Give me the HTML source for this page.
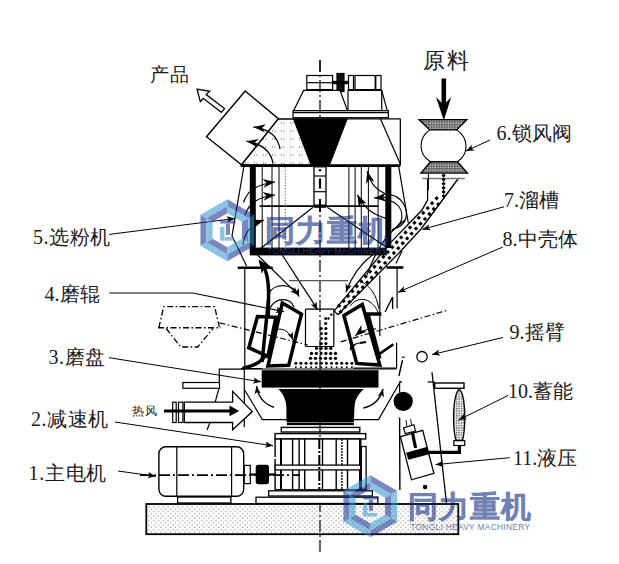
<!DOCTYPE html>
<html><head><meta charset="utf-8">
<style>
html,body{margin:0;padding:0;background:#fff;}
svg{display:block;}
.t{font-family:"Liberation Serif",serif;fill:#1a1a1a;}
.w{font-family:"Liberation Sans",sans-serif;font-weight:bold;}
</style></head><body>
<svg width="619" height="564" viewBox="0 0 619 564">
<defs>
 <pattern id="sparse" width="9" height="8" patternUnits="userSpaceOnUse"><rect x="2" y="2" width="0.8" height="2.2" fill="#9a9a9a"/><rect x="4.5" y="2" width="0.8" height="2.2" fill="#9a9a9a"/></pattern>
 <pattern id="base" width="4.8" height="4.6" patternUnits="userSpaceOnUse" x="147" y="505"><rect width="4.8" height="4.6" fill="#fff"/><rect x="1.5" y="1" width="1" height="1.4" fill="#8c8c8c"/><rect x="3.9" y="3.3" width="1" height="1.4" fill="#8c8c8c"/></pattern>
 <pattern id="hatch" width="2.6" height="2.6" patternUnits="userSpaceOnUse"><rect width="2.6" height="2.6" fill="#666"/><rect x="0.5" y="0.5" width="1.2" height="1.2" fill="#eee"/></pattern>
 <pattern id="hatch2" width="2.4" height="2.4" patternUnits="userSpaceOnUse"><rect width="2.4" height="2.4" fill="#fff"/><rect x="0" y="0" width="1.3" height="1.3" fill="#555"/><rect x="1.2" y="1.2" width="0.8" height="0.8" fill="#999"/></pattern>
 <marker id="ah" markerWidth="14" markerHeight="10" refX="12" refY="5" orient="auto" markerUnits="userSpaceOnUse"><path d="M12,5 L0,0.8 L3.5,5 L0,9.2 Z" fill="#000"/></marker>
 <marker id="ahc" markerWidth="13" markerHeight="10" refX="12" refY="5" orient="auto" markerUnits="userSpaceOnUse"><path d="M12,5 L0,0.6 L3.5,5 L0,9.4 Z" fill="#000"/></marker>
 <marker id="ahs" markerWidth="10" markerHeight="8" refX="8" refY="4" orient="auto" markerUnits="userSpaceOnUse"><path d="M8,4 L0,0.8 L2,4 L0,7.2 Z" fill="#000"/></marker>
 <marker id="ahl" markerWidth="14" markerHeight="10" refX="12" refY="5" orient="auto" markerUnits="userSpaceOnUse"><path d="M12,5 L0,0.5 L3.5,5 L0,9.5 Z" fill="#000"/></marker>
</defs>
<g fill="none" stroke="#000" stroke-width="1.2">
 <!-- base -->
 <rect x="146.3" y="504" width="312" height="30.2" fill="url(#base)" stroke-width="1.8"/>

 <!-- center line -->
 <line x1="320" y1="60" x2="320" y2="555" stroke-dasharray="12,3,2,3"/>

 <!-- top motor -->
 <rect x="306.8" y="75.5" width="25.8" height="14.1" fill="#fff"/>
 <line x1="306.8" y1="82.7" x2="332.6" y2="82.7"/>
 <rect x="337" y="73.5" width="7" height="18" fill="#111"/>
 <line x1="332.6" y1="82.5" x2="348.5" y2="82.5" stroke-width="3.4"/>
 <rect x="348.5" y="75.5" width="5" height="14.1"/>
 <rect x="355" y="75.5" width="26" height="14.1"/>
 <line x1="375.5" y1="75.5" x2="375.5" y2="89.6" stroke-width="1.8"/>
 <polygon points="303.6,90.4 340,90.4 347.5,110.7 293.6,110.7" fill="#fff"/>
 <rect x="348" y="90.4" width="33.7" height="20.3"/>
 <line x1="381.7" y1="90.4" x2="387.2" y2="110.7"/>
 <rect x="293" y="110.7" width="95.4" height="7" fill="#fff"/>
 <line x1="293" y1="112.7" x2="388.4" y2="112.7"/>
 <line x1="320" y1="60" x2="320" y2="118" stroke-dasharray="12,3,2,3"/>

 <!-- hood -->
 <polygon points="278.3,119 400.3,119 400.3,165 241.5,165" fill="url(#sparse)"/>
 <polygon points="325,119 400.3,119 400.3,165 330,165" fill="#fff" stroke="none"/>
 <line x1="278.3" y1="119" x2="400.3" y2="119"/>
 <line x1="400.3" y1="119" x2="400.3" y2="165"/>
 <polygon points="293.6,119 347,119 329.6,164.5 311,164.5" fill="#000"/>
 <line x1="380.5" y1="119" x2="400.3" y2="164"/>
 <line x1="240.7" y1="165.6" x2="400.3" y2="165.6" stroke-width="2.6"/>
 <!-- outlet duct -->
 <polygon points="245.2,91 278.3,118.7 241.5,164.8 206.5,136.7" fill="#fff" stroke-width="1.4"/>
 
 <path d="M280,149 C278,137 270,129 253.5,127" marker-end="url(#ah)" stroke-width="1.3"/>
 <path d="M273,163.3 C271,152 263,144 246.4,141.2" marker-end="url(#ah)" stroke-width="1.3"/>
 <!-- product arrow -->
 <polygon points="197.1,89.2 209.7,91.3 206.2,94.6 224.5,108.6 221.4,112.3 203.2,98.3 200.3,101.6" fill="#fff" stroke-width="1.3"/>

 <!-- separator cage -->
 <rect x="249.8" y="166" width="6" height="86" fill="#000" stroke="none"/>
 <rect x="385.3" y="166" width="6" height="82" fill="#000" stroke="none"/>
 <rect x="249.8" y="247.6" width="137" height="7.8" fill="#000" stroke="none"/>
 <line x1="259.6" y1="206.2" x2="378.1" y2="206.2" stroke-width="1.8"/>
 <rect x="314" y="166.8" width="12" height="38.5" fill="#fff" stroke-width="1.3"/>
 <line x1="314" y1="176" x2="326" y2="176"/>
 <line x1="314" y1="191.7" x2="326" y2="191.7"/>
 <line x1="320" y1="178.5" x2="320" y2="188.5" stroke-width="2.2"/>
 <circle cx="320" cy="170.3" r="1.2" fill="#000" stroke="none"/>
 <line x1="320" y1="199" x2="320" y2="212" stroke-width="2"/>
 <line x1="314" y1="206.3" x2="326" y2="206.3" stroke-width="3"/>
 <line x1="313" y1="207.3" x2="260" y2="249"/>
 <line x1="327.2" y1="207.3" x2="386.1" y2="246.9"/>
 <g stroke-width="1">
 <line x1="262.2" y1="167" x2="262.2" y2="250"/>
 <line x1="272" y1="167" x2="272" y2="250"/>
 <line x1="279" y1="167" x2="279" y2="250"/>
 <line x1="285.3" y1="167" x2="285.3" y2="250" stroke="#777" stroke-dasharray="1.5,1.5"/>
 <line x1="348.9" y1="167" x2="348.9" y2="250"/>
 <line x1="355.1" y1="167" x2="355.1" y2="250"/>
 <line x1="361.3" y1="167" x2="361.3" y2="250"/>
 <line x1="368.4" y1="167" x2="368.4" y2="250"/>
 <line x1="378.1" y1="167" x2="378.1" y2="250"/>
 </g>
 <!-- cage flow arrows -->
 <path d="M243.6,202.5 C247,190 258,184 275,182" marker-end="url(#ahc)"/>
 <path d="M245,215 C249,203 258,197 275,195" marker-end="url(#ahc)"/>
 <path d="M243,245 C244,232 252,224 264,220" marker-end="url(#ahc)"/>
 <path d="M384.7,193.5 C378,190 371,186 367.3,171.2" marker-end="url(#ahc)"/>
 <path d="M386,218.4 C375,215 365,210 357.4,194.8" marker-end="url(#ahc)"/>
 <path d="M391,197.5 C386,197 381,197.5 374.2,197.9" marker-end="url(#ahc)"/>
 <path d="M390.9,194.8 C402,197 408,208 406,218 C404,225 398,228 392.2,229.5"/>
 <path d="M390.9,201 C399,204 403,211 401.5,220 C400,225 396,228 392,231"/>
 <!-- separator outer housing -->
 <polyline points="244.3,164 232,236 246.6,266"/>
 <line x1="398.5" y1="165.3" x2="408.3" y2="223"/>

 <!-- middle housing -->
 <line x1="237.7" y1="267.8" x2="272.7" y2="267.8" stroke-width="2.6"/>
 <line x1="386.5" y1="267.5" x2="403.3" y2="267.5" stroke-width="2.6"/>
 <line x1="244.8" y1="267.8" x2="244.8" y2="369"/>
 <line x1="397.1" y1="267.5" x2="397.1" y2="308.3"/>
 <line x1="396.6" y1="342.7" x2="396.6" y2="368.2"/>
 <line x1="353.5" y1="368.2" x2="396.6" y2="368.2"/>
 <polyline points="219.3,389 219.3,369.2 244.8,369.2"/>
 <line x1="240.8" y1="368.6" x2="262.3" y2="368.6"/>
 <line x1="379.8" y1="275.5" x2="379.8" y2="336"/>

 <!-- funnel / inner -->
 <polyline points="257.5,255 298.2,294.9" marker-end="url(#ahs)"/>
 <path d="M282.3,255 L299.8,282.1 C306,292 312,300 317.4,310" marker-end="url(#ahs)"/>
 <line x1="289.2" y1="280.6" x2="348.1" y2="280.6" stroke="#555"/>
 <line x1="305.5" y1="309.1" x2="305.5" y2="346.5"/>
 <polyline points="305.5,309.1 333.8,309.1 333.8,346.5 305.5,346.5"/>
 <!-- thick flow curve -->
 <path d="M262,264 C268,272 269,285 268.5,300 L267.9,345 C267,357 262,364 242.4,368.4" stroke-width="3.5"/>
 <polygon points="258.5,259.5 270,266 264,268 262,274" fill="#000" stroke="none"/>
 <!-- arcs -->
 <path d="M268.7,293.3 C274,283 293,282 299,296.5" marker-end="url(#ahs)"/>
 <path d="M270.3,307.7 C276,297 290,297 294,307"/>
 <path d="M275.9,332.4 C281,326 290,329 291.8,336.4" marker-end="url(#ahs)"/>
 <path d="M350.3,306 C356,297 371,295 379,314" stroke-width="1"/>
 <path d="M360,281 C371,286 377,296 378.6,308.5" stroke-width="1"/>

 <!-- chute -->
 <polyline points="427.6,178 427.6,200 422,210 390.6,242.6 334.2,310.9" stroke-width="1.3"/>
 <polyline points="458.7,178 421.4,228.5 399,253 338,314.5" stroke-width="1.3"/>
 <line x1="334.2" y1="310.9" x2="338" y2="315"/>
 <line x1="422.3" y1="178.5" x2="464.9" y2="178.5" stroke="#777" stroke-width="1.4"/>
 <g fill="#000" stroke="none"><rect x="442.1" y="174.0" width="3.0" height="3.0" transform="rotate(45 443.6 175.5)"/><rect x="442.1" y="178.1" width="3.0" height="3.0" transform="rotate(45 443.6 179.6)"/><rect x="442.1" y="182.2" width="3.0" height="3.0" transform="rotate(45 443.6 183.7)"/><rect x="442.1" y="186.3" width="3.0" height="3.0" transform="rotate(45 443.6 187.8)"/><rect x="442.1" y="190.4" width="3.0" height="3.0" transform="rotate(45 443.6 191.9)"/><rect x="442.1" y="194.5" width="3.0" height="3.0" transform="rotate(45 443.6 196.0)"/><rect x="435.0" y="196.7" width="3.1" height="3.1" transform="rotate(45 436.6 198.3)"/><rect x="436.7" y="202.6" width="3.1" height="3.1" transform="rotate(45 438.2 204.2)"/><rect x="430.6" y="201.6" width="3.1" height="3.1" transform="rotate(45 432.1 203.1)"/><rect x="432.2" y="207.5" width="3.1" height="3.1" transform="rotate(45 433.8 209.1)"/><rect x="426.2" y="206.5" width="3.1" height="3.1" transform="rotate(45 427.7 208.0)"/><rect x="427.8" y="212.4" width="3.1" height="3.1" transform="rotate(45 429.3 214.0)"/><rect x="421.7" y="211.4" width="3.1" height="3.1" transform="rotate(45 423.3 212.9)"/><rect x="423.4" y="217.3" width="3.1" height="3.1" transform="rotate(45 424.9 218.9)"/><rect x="417.3" y="216.3" width="3.1" height="3.1" transform="rotate(45 418.8 217.8)"/><rect x="418.9" y="222.2" width="3.1" height="3.1" transform="rotate(45 420.5 223.8)"/><rect x="412.9" y="221.2" width="3.1" height="3.1" transform="rotate(45 414.4 222.7)"/><rect x="414.5" y="227.1" width="3.1" height="3.1" transform="rotate(45 416.1 228.6)"/><rect x="408.4" y="226.0" width="3.1" height="3.1" transform="rotate(45 410.0 227.6)"/><rect x="410.1" y="232.0" width="3.1" height="3.1" transform="rotate(45 411.6 233.5)"/><rect x="404.0" y="230.9" width="3.1" height="3.1" transform="rotate(45 405.5 232.5)"/><rect x="405.6" y="236.9" width="3.1" height="3.1" transform="rotate(45 407.2 238.4)"/><rect x="399.6" y="235.8" width="3.1" height="3.1" transform="rotate(45 401.1 237.4)"/><rect x="401.2" y="241.8" width="3.1" height="3.1" transform="rotate(45 402.8 243.3)"/><rect x="395.1" y="240.7" width="3.1" height="3.1" transform="rotate(45 396.7 242.3)"/><rect x="396.8" y="246.7" width="3.1" height="3.1" transform="rotate(45 398.3 248.2)"/><rect x="390.7" y="245.6" width="3.1" height="3.1" transform="rotate(45 392.3 247.2)"/><rect x="392.3" y="251.5" width="3.1" height="3.1" transform="rotate(45 393.9 253.1)"/><rect x="386.3" y="250.5" width="3.1" height="3.1" transform="rotate(45 387.8 252.0)"/><rect x="387.9" y="256.4" width="3.1" height="3.1" transform="rotate(45 389.5 258.0)"/><rect x="381.8" y="255.4" width="3.1" height="3.1" transform="rotate(45 383.4 256.9)"/><rect x="383.5" y="261.3" width="3.1" height="3.1" transform="rotate(45 385.0 262.9)"/><rect x="377.4" y="260.3" width="3.1" height="3.1" transform="rotate(45 379.0 261.8)"/><rect x="379.0" y="266.2" width="3.1" height="3.1" transform="rotate(45 380.6 267.8)"/><rect x="373.0" y="265.2" width="3.1" height="3.1" transform="rotate(45 374.5 266.7)"/><rect x="374.6" y="271.1" width="3.1" height="3.1" transform="rotate(45 376.2 272.7)"/><rect x="368.5" y="270.1" width="3.1" height="3.1" transform="rotate(45 370.1 271.6)"/><rect x="370.2" y="276.0" width="3.1" height="3.1" transform="rotate(45 371.7 277.5)"/><rect x="364.1" y="275.0" width="3.1" height="3.1" transform="rotate(45 365.7 276.5)"/><rect x="365.7" y="280.9" width="3.1" height="3.1" transform="rotate(45 367.3 282.4)"/><rect x="359.7" y="279.8" width="3.1" height="3.1" transform="rotate(45 361.2 281.4)"/><rect x="361.3" y="285.8" width="3.1" height="3.1" transform="rotate(45 362.9 287.3)"/><rect x="355.2" y="284.7" width="3.1" height="3.1" transform="rotate(45 356.8 286.3)"/><rect x="356.9" y="290.7" width="3.1" height="3.1" transform="rotate(45 358.4 292.2)"/><rect x="350.8" y="289.6" width="3.1" height="3.1" transform="rotate(45 352.4 291.2)"/><rect x="352.5" y="295.6" width="3.1" height="3.1" transform="rotate(45 354.0 297.1)"/><rect x="346.4" y="294.5" width="3.1" height="3.1" transform="rotate(45 347.9 296.1)"/><rect x="348.0" y="300.5" width="3.1" height="3.1" transform="rotate(45 349.6 302.0)"/><rect x="342.0" y="299.4" width="3.1" height="3.1" transform="rotate(45 343.5 301.0)"/><rect x="343.6" y="305.3" width="3.1" height="3.1" transform="rotate(45 345.1 306.9)"/><rect x="337.5" y="304.3" width="3.1" height="3.1" transform="rotate(45 339.1 305.8)"/><rect x="339.2" y="310.2" width="3.1" height="3.1" transform="rotate(45 340.7 311.8)"/></g>
 <path d="M405,220 C385,235 376,250 367,275" />
 <path d="M376,252 C362,262 352,275 346,292" marker-end="url(#ahs)"/>
 <line x1="402" y1="251" x2="396" y2="263.5"/>

 <!-- lock valve -->
 <polygon points="419.1,119.6 466.7,119.6 456.7,129.9 429.8,129.9" fill="url(#hatch)" stroke-width="1.4"/>
 <path d="M429.8,129.9 C418,138 418,154 430.5,161.8 M456.7,129.9 C469,138 469,154 457.4,161.8" stroke-width="1.1"/>
 <polygon points="430.5,161.8 457.4,161.8 467.4,173.1 421,173.1" fill="url(#hatch)" stroke-width="1.4"/>
 <line x1="428.4" y1="173" x2="428.4" y2="190" stroke-width="1"/>
 <!-- feed arrow -->
 <line x1="443.8" y1="78.5" x2="443.8" y2="108" stroke-width="4.6"/>
 <polygon points="436,97 443.8,105 451.2,97 443.8,120.5" fill="#000" stroke="none"/>

 <!-- rollers -->
 <polygon points="257.5,316.5 275.9,317.3 267.9,356.4 248.8,347.7" stroke-width="3.5" fill="#fff"/>
 <polygon points="282.3,303 301.4,314.1 288.7,365.2 267.9,366" stroke-width="3.5" fill="#fff"/>
 <line x1="268.5" y1="300" x2="262" y2="362" stroke-width="3.5"/>
 <polygon points="343.9,315.5 362.3,304.4 379.8,365 356.7,363.4" stroke-width="3.5" fill="#fff"/>
 <polyline points="381.4,313.9 367.9,313.9 379.8,358.6" stroke-width="3.5"/>
 <line x1="377.4" y1="355.4" x2="393.4" y2="344.3" stroke-width="2.6"/>
 <polyline points="385.1,312 392.6,297 392.6,309" stroke-width="1.4"/>
 <path d="M275,330 C283,327 290,332 293,340" marker-end="url(#ahs)" stroke-width="1"/>
 <path d="M376,329 C368,328 361,331 355,336" marker-end="url(#ahc)" stroke-width="1"/>
 <path d="M360,343 C356,343 352,346 350,350" marker-end="url(#ahs)" stroke-width="1.2"/>
 <line x1="360" y1="343" x2="366" y2="342" stroke-width="2"/>
 <!-- raised roller dash-dot -->
 <polyline points="158.9,327.7 163.7,306.7 214.6,306.7 219.5,327.7" stroke-dasharray="6,2.5,1.5,2.5" stroke-width="1.3"/>
 <polyline points="166.2,328.5 180.7,347 197.7,347 213,328.5" stroke-dasharray="6,2.5,1.5,2.5" stroke-width="1.3"/>
 <line x1="158" y1="327.7" x2="221" y2="327.7" stroke-dasharray="6,2.5,1.5,2.5" stroke-width="1.5"/>
 <line x1="219.5" y1="322.8" x2="307.8" y2="345" stroke-dasharray="6,2.5,1.5,2.5"/>
 <line x1="340.7" y1="341.9" x2="447.5" y2="310.2" stroke-dasharray="6,2.5,1.5,2.5"/>

 <!-- pile -->
 <g fill="#000" stroke="none"><circle cx="325.7" cy="318.5" r="1.5"/><circle cx="325.7" cy="323.5" r="1.5"/><circle cx="321.2" cy="328.5" r="1.6"/><circle cx="325.9" cy="328.5" r="1.6"/><circle cx="321.2" cy="333.5" r="1.6"/><circle cx="325.9" cy="333.5" r="1.6"/><circle cx="321.2" cy="338.5" r="1.6"/><circle cx="325.9" cy="338.5" r="1.6"/><circle cx="321.2" cy="343.5" r="1.6"/><circle cx="325.9" cy="343.5" r="1.6"/><circle cx="331.3" cy="314.6" r="1.2"/><circle cx="328.5" cy="318.5" r="1.2"/><circle cx="316.5" cy="348.3" r="1.65"/><circle cx="321.2" cy="348.3" r="1.65"/><circle cx="326.0" cy="348.3" r="1.65"/><circle cx="330.8" cy="348.3" r="1.65"/><circle cx="311.5" cy="353.4" r="1.65"/><circle cx="316.3" cy="353.4" r="1.65"/><circle cx="321.1" cy="353.4" r="1.65"/><circle cx="325.9" cy="353.4" r="1.65"/><circle cx="330.7" cy="353.4" r="1.65"/><circle cx="335.5" cy="353.4" r="1.65"/><circle cx="310.5" cy="358.3" r="1.65"/><circle cx="315.5" cy="358.3" r="1.65"/><circle cx="320.5" cy="358.3" r="1.65"/><circle cx="325.5" cy="358.3" r="1.65"/><circle cx="330.5" cy="358.3" r="1.65"/><circle cx="335.5" cy="358.3" r="1.65"/><circle cx="295.8" cy="363.3" r="1.5"/><circle cx="295.8" cy="367.3" r="1.0"/><circle cx="300.9" cy="363.3" r="1.5"/><circle cx="300.9" cy="367.3" r="1.0"/><circle cx="306.0" cy="363.3" r="1.5"/><circle cx="306.0" cy="367.3" r="1.0"/><circle cx="311.1" cy="363.3" r="1.5"/><circle cx="311.1" cy="367.3" r="1.0"/><circle cx="316.2" cy="363.3" r="1.5"/><circle cx="316.2" cy="367.3" r="1.0"/><circle cx="321.3" cy="363.3" r="1.5"/><circle cx="321.3" cy="367.3" r="1.0"/><circle cx="326.4" cy="363.3" r="1.5"/><circle cx="326.4" cy="367.3" r="1.0"/><circle cx="331.5" cy="363.3" r="1.5"/><circle cx="331.5" cy="367.3" r="1.0"/><circle cx="336.6" cy="363.3" r="1.5"/><circle cx="336.6" cy="367.3" r="1.0"/><circle cx="341.7" cy="363.3" r="1.5"/><circle cx="341.7" cy="367.3" r="1.0"/><circle cx="346.8" cy="363.3" r="1.5"/><circle cx="346.8" cy="367.3" r="1.0"/><circle cx="351.9" cy="363.3" r="1.5"/><circle cx="351.9" cy="367.3" r="1.0"/></g>

 <!-- table -->
 <line x1="244.2" y1="369" x2="396.6" y2="369"/>
 <rect x="261.7" y="370.2" width="116.8" height="17.4" fill="#000" stroke="none"/>
 <path d="M278.4,389 L364,389 C357,395 354.5,401 354.5,408 L353.8,422 L286.4,422 L286.4,408 C286.4,401 284,395 278.4,389 Z" fill="#000" stroke="none"/>
 <rect x="286.9" y="422.5" width="67" height="2.6" fill="#000" stroke="none"/>
 <rect x="281.3" y="427.4" width="78.5" height="4.6" stroke-width="1.4"/>
 <rect x="275.1" y="433.6" width="90.6" height="5.4" stroke-width="1.4"/>
 <!-- lower housing -->
 <polyline points="244.3,369.5 244.3,426.9"/>
 <polyline points="245,390.5 262.4,419.6 286.4,419.6"/>
 <polyline points="400.3,381.8 378.5,419.6 353.8,419.6"/>
 <path d="M274,407.3 C264,404 258,396 256.5,386" marker-end="url(#ahs)" stroke-width="1.4"/>
 <path d="M363.3,408 C373,406 380,400 383,389" marker-end="url(#ahs)" stroke-width="1.4"/>

 <!-- gearbox -->
 <rect x="275.1" y="439" width="85.7" height="50.8" fill="#fff" stroke-width="1.4"/>
 <line x1="281" y1="439" x2="281" y2="489.8" stroke-width="2"/>
 <g stroke-width="1.4">
 <line x1="292.6" y1="439" x2="292.6" y2="489.8"/>
 <line x1="299.1" y1="439" x2="299.1" y2="489.8"/>
 <line x1="304.7" y1="439" x2="304.7" y2="489.8"/>
 <line x1="322.5" y1="439" x2="322.5" y2="489.8"/>
 <line x1="336.2" y1="439" x2="336.2" y2="489.8"/>
 <line x1="341.9" y1="439" x2="341.9" y2="489.8" stroke-dasharray="2,1"/>
 <line x1="347.5" y1="439" x2="347.5" y2="489.8"/>
 <line x1="359.7" y1="439" x2="359.7" y2="489.8"/>
 </g>
 <line x1="275.1" y1="457" x2="275.1" y2="459" stroke="#fff" stroke-width="2"/>
 <rect x="275.1" y="465.1" width="85.7" height="4.8" fill="#fff" stroke-width="1.3"/>
 <line x1="319.3" y1="439" x2="319.3" y2="490" stroke-width="2" stroke-dasharray="10,2,2,2"/>
 <rect x="361.3" y="446.5" width="4.8" height="42.8" stroke-width="1.3"/>
 <rect x="268.7" y="490.8" width="103.7" height="5.2" fill="#fff" stroke-width="1.3"/>
 <rect x="256" y="497.2" width="121.8" height="6.3" fill="#fff" stroke-width="1.3"/>
 <rect x="177.6" y="497" width="53.3" height="6" fill="#fff" stroke-width="1.3"/>

 <!-- motor -->
 <rect x="158.9" y="446.8" width="84.8" height="49.4" rx="7" stroke-width="1.4" fill="#fff"/>
 <line x1="176.8" y1="446.8" x2="176.8" y2="496.2"/>
 <line x1="231.6" y1="446.8" x2="231.6" y2="496.2"/>
 <rect x="244.2" y="465.4" width="6.1" height="18.2"/>
 <line x1="250.3" y1="474.5" x2="276" y2="474.5" stroke-width="2.2"/>
 <rect x="256.3" y="465.4" width="12.1" height="18.2" rx="2" fill="#000"/>
 <line x1="140" y1="475.1" x2="300" y2="475.1" stroke-dasharray="11,3,2,3" stroke-width="1.8"/>

 <!-- hot air -->
 <rect x="182.9" y="382.5" width="36.6" height="5.8" fill="#fff"/>
 <line x1="218.8" y1="389" x2="215.2" y2="402.2"/>
 <line x1="210" y1="422.5" x2="207" y2="430"/>
 <rect x="172.7" y="402.2" width="3.5" height="20.3"/>
 <rect x="178.5" y="402.2" width="4.4" height="20.3"/>
 <polygon points="184.3,402.2 232.6,402.2 232.6,391.3 252.3,411.6 232.6,429.8 232.6,422.5 184.3,422.5" fill="#fff" stroke-width="1.3"/>
 <line x1="164" y1="410.9" x2="232" y2="410.9" stroke-width="3"/>
 <polygon points="229.5,405.5 239.2,410.9 229.5,416.3" fill="#000" stroke="none"/>

 <!-- rocker / hydraulic -->
 <circle cx="422" cy="356.7" r="5.2" stroke-width="1.3"/>
 <line x1="402.5" y1="360" x2="398.9" y2="376" stroke-width="1.4"/>
 <line x1="404.6" y1="357.2" x2="402" y2="357.2"/>
 <circle cx="403.2" cy="401.4" r="9" fill="#000"/>
 <polyline points="402,381.8 399.6,381.8 399.6,392.7"/>
 <line x1="399.6" y1="417.4" x2="399.9" y2="490" stroke-width="1.4"/>
 <line x1="432" y1="372.3" x2="446.5" y2="503.5" stroke-width="1.3"/>
 <line x1="427.6" y1="382" x2="434.7" y2="382"/>
 <rect x="434.7" y="383" width="29.3" height="5.3" stroke-width="1.4"/>
 <path d="M459.2,389.3 C463,391 465.2,405 464.8,420 C464.5,432 463.5,437 462.5,440.5 L456,440.5 C455,437 453.8,432 453.6,420 C453.4,405 455.5,391 459.2,389.3 Z" fill="url(#hatch2)" stroke-width="1.3"/>
 <rect x="453.8" y="440.7" width="10.9" height="4.8" fill="#fff" stroke-width="1.2"/>
 <polyline points="459.4,446 459.4,452.3 427.5,452.3" stroke-width="3.2"/>
 <polygon points="400.4,436.7 422.7,430.3 433.9,473.4 411.5,479.8" fill="#fff" stroke-width="1.3"/>
 <polygon points="406,452.7 426.7,447 429.1,454.3 408.4,459.8" fill="#000" stroke="none"/>
 <line x1="412.3" y1="432" x2="415.6" y2="448" stroke-width="3.2"/>
 <polygon points="403.6,427.9 413.9,424.7 415.5,431.1 405.2,433.5" fill="#fff" stroke-width="1.2"/>
 <line x1="406" y1="420" x2="406.8" y2="426" stroke-width="0.9"/>
 <line x1="410.7" y1="419.1" x2="411.5" y2="425" stroke-width="0.9"/>
 <circle cx="425.1" cy="487" r="2.3" fill="#000" stroke="none"/>
</g>

<!-- labels -->
<g class="t" font-size="20" font-weight="300">
 <text x="33" y="243.5" letter-spacing="0.5">5.选粉机</text>
 <text x="44.5" y="300.5">4.磨辊</text>
 <text x="48.5" y="363.5" letter-spacing="0.5">3.磨盘</text>
 <text x="31" y="425.5" letter-spacing="0.6">2.减速机</text>
 <text x="28.5" y="479.5" letter-spacing="0.7">1.主电机</text>
 <text x="496.5" y="140">6.锁风阀</text>
 <text x="504" y="207">7.溜槽</text>
 <text x="502.5" y="246">8.中壳体</text>
 <text x="509.5" y="339">9.摇臂</text>
 <text x="508" y="398">10.蓄能</text>
 <text x="513" y="465">11.液压</text>
 <text x="423" y="67.5" font-size="22" letter-spacing="1.5">原料</text>
 <text x="150" y="81" font-size="19" letter-spacing="1">产品</text>
 <text x="132.2" y="415" font-size="11.5" letter-spacing="0.8">热风</text>
</g>
<g stroke="#000" stroke-width="1" fill="none">
 <line x1="109.2" y1="234.4" x2="234.7" y2="218.5" marker-end="url(#ahs)"/>
 <polyline points="109.2,293 192.8,293 283.9,311.6" marker-end="url(#ahs)" stroke-width="1.2"/>
 <line x1="109" y1="357.7" x2="261" y2="381.8" marker-end="url(#ahs)"/>
 <line x1="115" y1="422" x2="273" y2="445.8" marker-end="url(#ahs)"/>
 <line x1="118" y1="471" x2="155.8" y2="476.3" marker-end="url(#ahs)"/>
 <line x1="490" y1="140" x2="466" y2="151" marker-end="url(#ahs)"/>
 <line x1="504" y1="206.8" x2="422.3" y2="229.4" marker-end="url(#ahs)"/>
 <line x1="502.8" y1="247" x2="398" y2="292.3" marker-end="url(#ahs)"/>
 <line x1="503" y1="337.5" x2="432" y2="354.6" marker-end="url(#ahs)"/>
 <line x1="508" y1="395.5" x2="458.6" y2="420" marker-end="url(#ahs)"/>
 <line x1="509.7" y1="457.7" x2="435.5" y2="464.6" marker-end="url(#ahs)"/>
</g>

<!-- watermarks -->
<g transform="translate(227.3,230.3)" opacity="0.56"><polygon points="0.00,-31.00 26.85,-15.50 20.78,-12.00 0.00,-24.00" fill="rgb(18,45,143)"/><polygon points="0.00,-24.00 20.78,-12.00 14.72,-8.50 0.00,-17.00" fill="rgb(50,150,207)"/><polygon points="26.85,-15.50 26.85,15.50 20.78,12.00 20.78,-12.00" fill="rgb(50,150,207)"/><polygon points="20.78,-12.00 20.78,12.00 14.72,8.50 14.72,-8.50" fill="rgb(18,45,143)"/><polygon points="26.85,15.50 0.00,31.00 0.00,24.00 20.78,12.00" fill="rgb(18,45,143)"/><polygon points="20.78,12.00 0.00,24.00 0.00,17.00 14.72,8.50" fill="rgb(50,150,207)"/><polygon points="0.00,31.00 -26.85,15.50 -20.78,12.00 0.00,24.00" fill="rgb(50,150,207)"/><polygon points="0.00,24.00 -20.78,12.00 -14.72,8.50 0.00,17.00" fill="rgb(18,45,143)"/><polygon points="-26.85,15.50 -26.85,-15.50 -20.78,-12.00 -20.78,12.00" fill="rgb(18,45,143)"/><polygon points="-20.78,12.00 -20.78,-12.00 -14.72,-8.50 -14.72,8.50" fill="rgb(50,150,207)"/><polygon points="-26.85,-15.50 0.00,-31.00 0.00,-24.00 -20.78,-12.00" fill="rgb(50,150,207)"/><polygon points="-20.78,-12.00 0.00,-24.00 0.00,-17.00 -14.72,-8.50" fill="rgb(18,45,143)"/><rect x="-7.2" y="-9.9" width="15.3" height="3.2" fill="rgb(18,45,143)"/><rect x="-1.5" y="-6.7" width="4.2" height="11.3" fill="rgb(18,45,143)"/><rect x="-7.2" y="-3.2" width="4.3" height="13.5" fill="rgb(50,150,207)"/><rect x="-2.9" y="6.8" width="9.6" height="3.5" fill="rgb(50,150,207)"/></g><text x="264.8" y="240.8" font-family="Liberation Sans,sans-serif" font-weight="bold" font-size="30" fill="rgb(10,40,130)" stroke="rgb(10,40,130)" stroke-width="0.5" opacity="0.58" letter-spacing="1">同力重机</text><text x="267.3" y="254.3" font-family="Liberation Sans,sans-serif" font-size="8.4" fill="rgb(60,85,195)" opacity="0.68" textLength="119.7" lengthAdjust="spacing">TONGLI HEAVY MACHINERY</text><g transform="translate(370.3,506.2)" opacity="0.56"><polygon points="0.00,-31.00 26.85,-15.50 20.78,-12.00 0.00,-24.00" fill="rgb(18,45,143)"/><polygon points="0.00,-24.00 20.78,-12.00 14.72,-8.50 0.00,-17.00" fill="rgb(50,150,207)"/><polygon points="26.85,-15.50 26.85,15.50 20.78,12.00 20.78,-12.00" fill="rgb(50,150,207)"/><polygon points="20.78,-12.00 20.78,12.00 14.72,8.50 14.72,-8.50" fill="rgb(18,45,143)"/><polygon points="26.85,15.50 0.00,31.00 0.00,24.00 20.78,12.00" fill="rgb(18,45,143)"/><polygon points="20.78,12.00 0.00,24.00 0.00,17.00 14.72,8.50" fill="rgb(50,150,207)"/><polygon points="0.00,31.00 -26.85,15.50 -20.78,12.00 0.00,24.00" fill="rgb(50,150,207)"/><polygon points="0.00,24.00 -20.78,12.00 -14.72,8.50 0.00,17.00" fill="rgb(18,45,143)"/><polygon points="-26.85,15.50 -26.85,-15.50 -20.78,-12.00 -20.78,12.00" fill="rgb(18,45,143)"/><polygon points="-20.78,12.00 -20.78,-12.00 -14.72,-8.50 -14.72,8.50" fill="rgb(50,150,207)"/><polygon points="-26.85,-15.50 0.00,-31.00 0.00,-24.00 -20.78,-12.00" fill="rgb(50,150,207)"/><polygon points="-20.78,-12.00 0.00,-24.00 0.00,-17.00 -14.72,-8.50" fill="rgb(18,45,143)"/><rect x="-7.2" y="-9.9" width="15.3" height="3.2" fill="rgb(18,45,143)"/><rect x="-1.5" y="-6.7" width="4.2" height="11.3" fill="rgb(18,45,143)"/><rect x="-7.2" y="-3.2" width="4.3" height="13.5" fill="rgb(50,150,207)"/><rect x="-2.9" y="6.8" width="9.6" height="3.5" fill="rgb(50,150,207)"/></g><text x="407.8" y="516.7" font-family="Liberation Sans,sans-serif" font-weight="bold" font-size="30" fill="rgb(10,40,130)" stroke="rgb(10,40,130)" stroke-width="0.5" opacity="0.58" letter-spacing="1">同力重机</text><text x="410.3" y="530.2" font-family="Liberation Sans,sans-serif" font-size="8.4" fill="rgb(15,45,125)" opacity="0.62" textLength="119.7" lengthAdjust="spacing">TONGLI HEAVY MACHINERY</text>
</svg>
</body></html>
